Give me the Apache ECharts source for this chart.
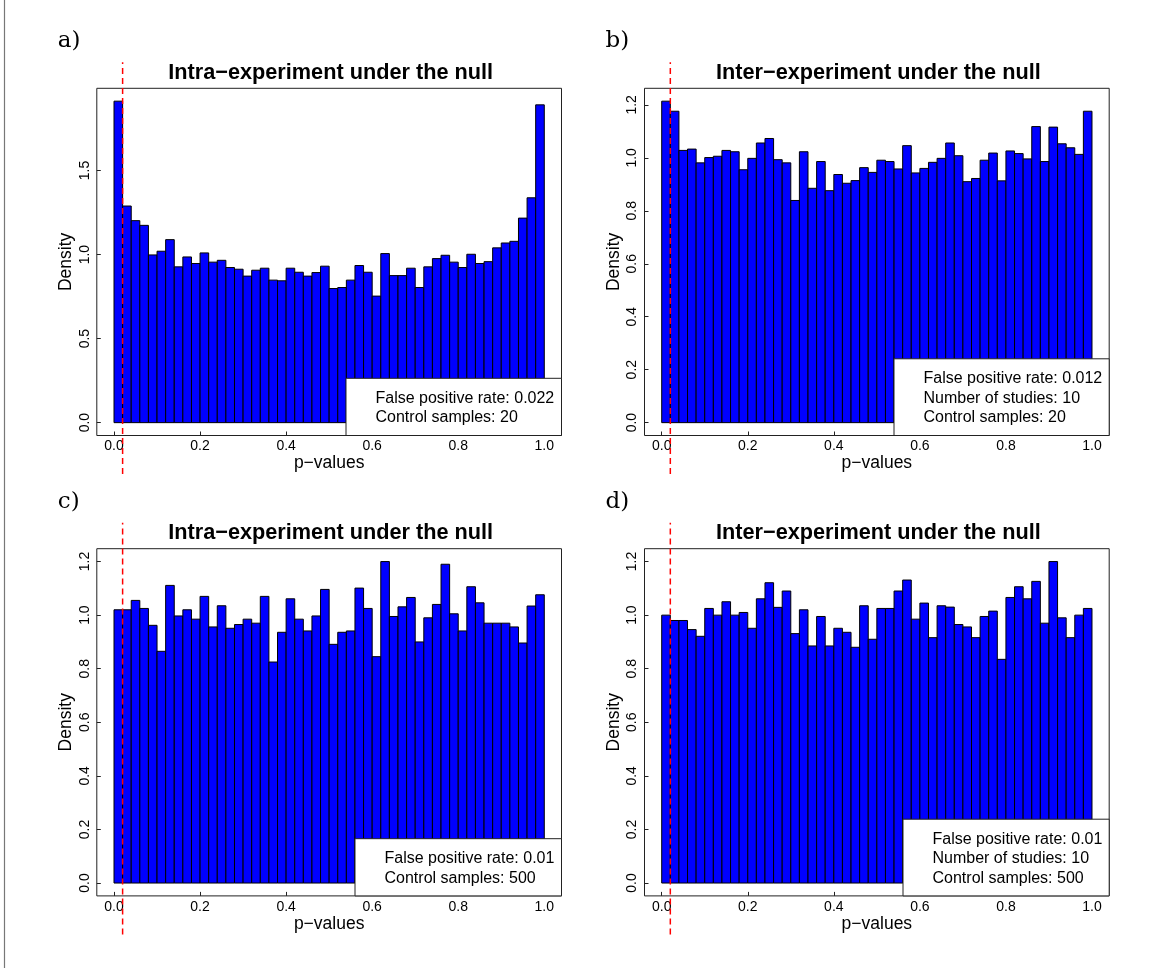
<!DOCTYPE html>
<html>
<head>
<meta charset="utf-8">
<script src="https://cdn.jsdelivr.net/npm/echarts@6.0.0/dist/echarts.min.js"></script>
<style>
  html, body { margin: 0; padding: 0; background: #fff; }
  #chart { width: 1169px; height: 968px; }
</style>
</head>
<body>
<div id="chart"></div>
<script>
// histogram bin edges (p-values)
const breaks = [0.00, 0.02, 0.04, 0.06, 0.08, 0.10, 0.12, 0.14, 0.16, 0.18,
  0.20, 0.22, 0.24, 0.26, 0.28, 0.30, 0.32, 0.34, 0.36, 0.38,
  0.40, 0.42, 0.44, 0.46, 0.48, 0.50, 0.52, 0.54, 0.56, 0.58,
  0.60, 0.62, 0.64, 0.66, 0.68, 0.70, 0.72, 0.74, 0.76, 0.78,
  0.80, 0.82, 0.84, 0.86, 0.88, 0.90, 0.92, 0.94, 0.96, 0.98, 1.00];

// densities
const densityA = [1.913, 1.289, 1.202, 1.174, 0.998, 1.020, 1.089, 0.927, 0.986, 0.947,
  1.010, 0.955, 0.966, 0.923, 0.913, 0.872, 0.907, 0.919, 0.848, 0.844,
  0.919, 0.895, 0.872, 0.893, 0.931, 0.798, 0.804, 0.848, 0.935, 0.895,
  0.753, 1.006, 0.875, 0.875, 0.919, 0.804, 0.927, 0.976, 0.996, 0.955,
  0.923, 1.002, 0.947, 0.958, 1.040, 1.069, 1.079, 1.217, 1.338, 1.891];
const densityB = [1.214, 1.176, 1.028, 1.033, 0.981, 1.001, 1.006, 1.028, 1.023, 0.955,
  0.998, 1.056, 1.073, 0.993, 0.981, 0.839, 1.023, 0.885, 0.986, 0.876,
  0.937, 0.904, 0.914, 0.963, 0.945, 0.991, 0.986, 0.958, 1.046, 0.943,
  0.960, 0.983, 0.998, 1.056, 1.008, 0.910, 0.922, 0.991, 1.018, 0.913,
  1.026, 1.016, 0.996, 1.118, 0.986, 1.116, 1.053, 1.038, 1.013, 1.176];
const densityC = [1.020, 1.020, 1.055, 1.025, 0.962, 0.865, 1.111, 0.997, 1.020, 0.985,
  1.070, 0.956, 1.035, 0.951, 0.965, 0.985, 0.970, 1.070, 0.825, 0.936,
  1.061, 0.985, 0.941, 0.997, 1.096, 0.891, 0.936, 0.941, 1.101, 1.025,
  0.845, 1.200, 0.995, 1.031, 1.066, 0.900, 0.990, 1.040, 1.190, 1.005,
  0.941, 1.106, 1.046, 0.970, 0.970, 0.970, 0.956, 0.896, 1.034, 1.076];
const densityD = [1.000, 0.980, 0.980, 0.946, 0.921, 1.025, 1.000, 1.050, 1.000, 1.010,
  0.951, 1.061, 1.121, 1.029, 1.090, 0.931, 1.020, 0.885, 0.995, 0.885,
  0.951, 0.936, 0.880, 1.035, 0.910, 1.025, 1.025, 1.090, 1.131, 0.985,
  1.045, 0.916, 1.035, 1.030, 0.965, 0.956, 0.916, 0.995, 1.015, 0.835,
  1.066, 1.106, 1.061, 1.126, 0.970, 1.200, 0.990, 0.916, 1.000, 1.025];

const xTicks = [0.0, 0.2, 0.4, 0.6, 0.8, 1.0];
const yTicksA = [0.0, 0.5, 1.0, 1.5];
const yTicks = [0.0, 0.2, 0.4, 0.6, 0.8, 1.0, 1.2];
const cutoff = 0.02;

const titleIntra = 'Intra\u2212experiment under the null';
const titleInter = 'Inter\u2212experiment under the null';
const legendA = ['False positive rate: 0.022', 'Control samples: 20'];
const legendB = ['False positive rate: 0.012', 'Number of studies: 10', 'Control samples: 20'];
const legendC = ['False positive rate: 0.01', 'Control samples: 500'];
const legendD = ['False positive rate: 0.01', 'Number of studies: 10', 'Control samples: 500'];

const SANS = 'Liberation Sans, Arial, sans-serif';
const BOX_W = 464.7;
const BOX_H = 347.2;

const panels = [
  { key: 'a', left: 96.8, top: 88.3, density: densityA, yTicks: yTicksA, title: titleIntra, legend: legendA, legendLeft: 346 },
  { key: 'b', left: 644.5, top: 88.3, density: densityB, yTicks: yTicks, title: titleInter, legend: legendB, legendLeft: 894 },
  { key: 'c', left: 96.8, top: 548.7, density: densityC, yTicks: yTicks, title: titleIntra, legend: legendC, legendLeft: 355 },
  { key: 'd', left: 644.5, top: 548.7, density: densityD, yTicks: yTicks, title: titleInter, legend: legendD, legendLeft: 903 },
];

function renderBar(params, api) {
  const p0 = api.coord([api.value(0), api.value(2)]);
  const p1 = api.coord([api.value(1), 0]);
  return {
    type: 'rect',
    shape: { x: p0[0], y: p0[1], width: p1[0] - p0[0], height: p1[1] - p0[1] },
    style: { fill: '#0000ff', stroke: '#000', lineWidth: 1 },
  };
}

const grids = [];
const xAxes = [];
const yAxes = [];
const series = [];
const titles = [];
const graphics = [];

// thin page border on the left
graphics.push({
  type: 'line', z: 100,
  shape: { x1: 4.5, y1: 0, x2: 4.5, y2: 968 },
  style: { stroke: '#777', lineWidth: 1.2 },
});

panels.forEach((p, i) => {
  const ymax = Math.max(...p.density);
  const gi = i * 2;

  // plot box
  grids.push({ left: p.left, top: p.top, width: BOX_W, height: BOX_H, show: true, borderColor: '#222', borderWidth: 1, backgroundColor: 'transparent' });
  xAxes.push({
    gridIndex: gi, type: 'value', min: -0.04, max: 1.04,
    axisLine: { show: false, onZero: false },
    splitLine: { show: false },
    axisTick: { inside: true, length: 4, customValues: xTicks, lineStyle: { color: '#222' } },
    axisLabel: { customValues: xTicks, formatter: v => v.toFixed(1), margin: 4, fontSize: 14, color: '#000', fontFamily: SANS },
    name: 'p\u2212values', nameLocation: 'middle', nameGap: 18,
    nameTextStyle: { fontSize: 17.5, color: '#000', fontFamily: SANS },
  });
  yAxes.push({
    gridIndex: gi, type: 'value', min: -0.04 * ymax, max: 1.04 * ymax,
    axisLine: { show: false, onZero: false },
    splitLine: { show: false },
    axisTick: { inside: true, length: 4, customValues: p.yTicks, lineStyle: { color: '#222' } },
    axisLabel: { customValues: p.yTicks, formatter: v => v.toFixed(1), rotate: 90, margin: 5, fontSize: 14, color: '#000', fontFamily: SANS },
    name: 'Density', nameLocation: 'middle', nameGap: 21.5,
    nameTextStyle: { fontSize: 17.5, color: '#000', fontFamily: SANS },
  });
  series.push({
    type: 'custom', xAxisIndex: gi, yAxisIndex: gi, renderItem: renderBar,
    encode: { x: [0, 1], y: 2 }, silent: true, z: 2,
    data: p.density.map((d, k) => [breaks[k], breaks[k + 1], d]),
  });

  // overlay spanning the figure region for the cut-off line
  grids.push({ left: p.left, top: p.top - 26, width: BOX_W, height: BOX_H + 64.5, show: false });
  xAxes.push({ gridIndex: gi + 1, type: 'value', min: -0.04, max: 1.04, show: false });
  yAxes.push({ gridIndex: gi + 1, type: 'value', min: 0, max: 1, show: false });
  series.push({
    type: 'line', xAxisIndex: gi + 1, yAxisIndex: gi + 1, symbol: 'none', silent: true, z: 10,
    lineStyle: { color: '#ff0000', width: 1.5, type: [6, 4] },
    data: [[cutoff, 0], [cutoff, 1]],
  });

  titles.push({
    text: p.title, left: p.left + BOX_W / 2 + 1.5, top: p.top - 15.5, padding: 0,
    textAlign: 'center', textVerticalAlign: 'middle',
    textStyle: { fontFamily: SANS, fontWeight: 'bold', fontSize: 21.7, color: '#000' },
  });
  titles.push({
    text: p.key + ')', left: p.left - 39, top: p.top - 47, padding: 0,
    textAlign: 'left', textVerticalAlign: 'middle',
    textStyle: { fontFamily: 'DejaVu Serif, serif', fontWeight: 'normal', fontSize: 23, color: '#000' },
  });

  // statistics box in the bottom right corner
  const n = p.legend.length;
  const boxRight = p.left + BOX_W;
  const boxBottom = p.top + BOX_H;
  const legH = 18.2 + 19.5 * n;
  graphics.push({
    type: 'rect', z: 50,
    shape: { x: p.legendLeft, y: boxBottom - legH, width: boxRight - p.legendLeft, height: legH },
    style: { fill: '#fff', stroke: '#222', lineWidth: 1 },
  });
  p.legend.forEach((line, k) => {
    graphics.push({
      type: 'text', z: 51,
      x: p.legendLeft + 29.5, y: boxBottom - 17.8 - (n - 1 - k) * 19.5,
      style: { text: line, font: '16px ' + SANS, fill: '#000', align: 'left', verticalAlign: 'middle' },
    });
  });
});

const chart = echarts.init(document.getElementById('chart'), null, { renderer: 'canvas' });
chart.setOption({
  backgroundColor: '#fff',
  animation: false,
  title: titles,
  grid: grids,
  xAxis: xAxes,
  yAxis: yAxes,
  series: series,
  graphic: graphics,
});
</script>
</body>
</html>
